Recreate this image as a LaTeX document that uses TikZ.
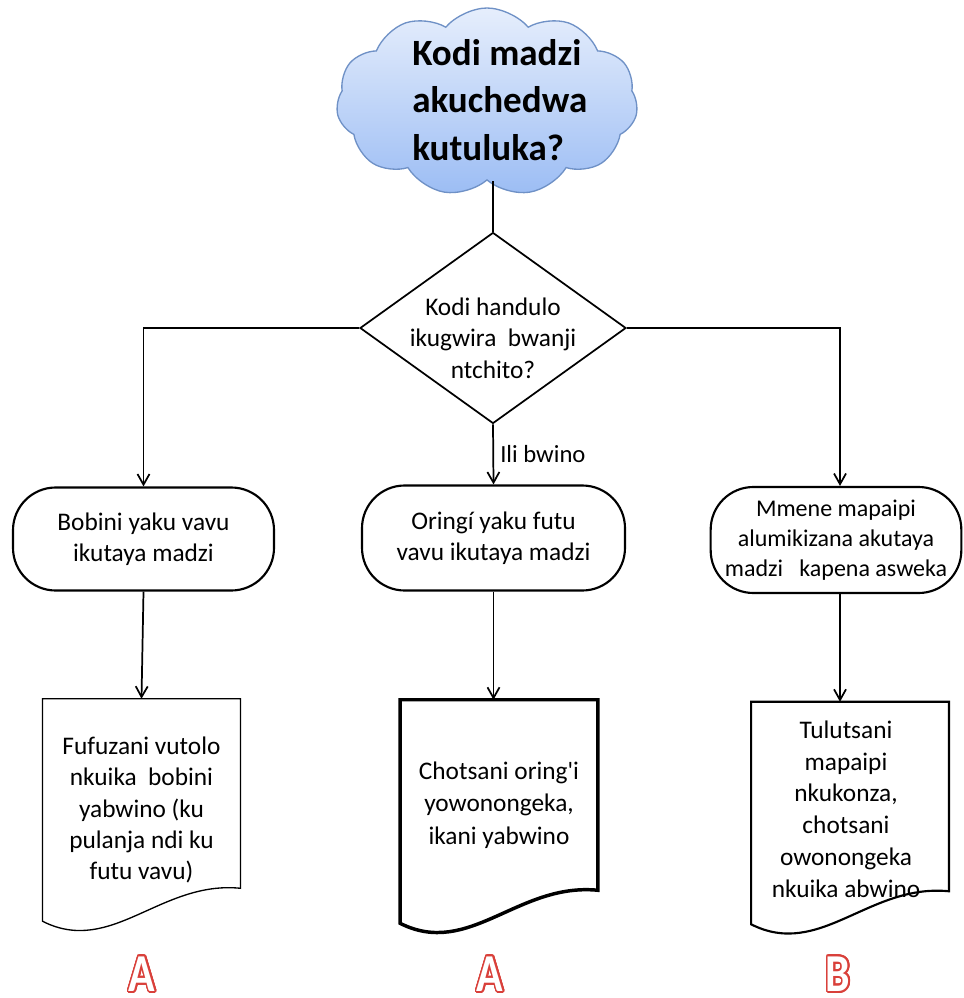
\documentclass[tikz,border=0pt]{standalone}
\usepackage{fontspec}
\setmainfont{Carlito}
\newfontfamily\plaincarlito{Carlito}
\usepackage{contour}
\contourlength{1.4pt}
\contournumber{24}
\usetikzlibrary{shapes.symbols,shapes.geometric,shapes.misc,arrows.meta,calc}
\definecolor{cloudtop}{HTML}{E6EEFC}
\definecolor{cloudbot}{HTML}{9CBDF4}
\definecolor{cloudedge}{HTML}{6F91C6}
\definecolor{letred}{HTML}{D9403A}
\tikzset{
  arr/.style={draw, line width=1.3pt, -{Straight Barb[length=8pt,width=9pt,line width=1.3pt]}},
  plain/.style={draw, line width=1.3pt},
  body/.style={font=\fontsize{19pt}{23.5pt}\selectfont, align=center, inner sep=0pt},
  stadium/.style={body, draw, line width=1.6pt, rounded corners=32pt},
  docbox/.style={inner sep=0pt, minimum width=148pt},
  bigletter/.style={font=\bfseries\fontsize{40pt}{40pt}\selectfont, inner sep=0pt}
}
\newcommand\docpath[2]{\draw[#2] (#1.north west) -- (#1.north east) -- ($(#1.south east)+(0,-33)$) .. controls ($(#1.south west)+(118,-41)$) and ($(#1.south west)+(69,35)$) .. (#1.south west) -- cycle;}
\newcommand\hollow[1]{\scalebox{0.82}[1]{\contour{letred}{\color{white}#1}}}
\begin{document}
\begin{tikzpicture}[x=0.75pt,y=-0.75pt]
\path[use as bounding box] (0,0) rectangle (963,998);
% cloud
\node[cloud, cloud puffs=11, cloud puff arc=100, aspect=1.6, minimum width=226pt, minimum height=141pt,
  inner sep=0pt, draw=cloudedge, line width=1pt, top color=cloudtop, bottom color=cloudbot] (cloud) at (487,102) {};
\node[font=\bfseries\fontsize{27.8pt}{35.5pt}\selectfont, align=left, inner sep=0pt, anchor=west] (cloudtext) at (412,100)
  {Kodi madzi\\akuchedwa\\kutuluka?};
% diamond
\node[diamond, draw, line width=1.3pt, minimum width=199.5pt, minimum height=143.25pt, inner sep=0pt, aspect=1.39] (dia) at (493,328) {};
\node[body] (diatext) at (493,338) {Kodi handulo\\ikugwira\ \ bwanji\\ntchito?};
% process boxes
\node[stadium, minimum width=195.75pt, minimum height=77.25pt] (lbox) at (143.5,539) {Bobini yaku vavu\\ikutaya madzi};
\node[stadium, minimum width=197.25pt, minimum height=78.75pt] (cbox) at (493.5,538) {Oringí yaku futu\\vavu ikutaya madzi};
\node[stadium, font=\fontsize{18pt}{22.5pt}\selectfont, minimum width=188pt, minimum height=79.5pt] (rbox) at (836,540) {Mmene mapaipi\\alumikizana akutaya\\madzi\ \ \ kapena asweka};
% connectors
\draw[plain] (dia.north) -- (dia.north |- cloud.south);
\draw[arr] (dia.west) -| (lbox.north);
\draw[arr] (dia.east) -| ([xshift=3pt]rbox.north);
\draw[arr] (dia.south) -- (cbox.north);
\node[font=\fontsize{18.5pt}{20pt}\selectfont, anchor=west, inner sep=0pt] (ok) at (500,454) {Ili bwino};
% documents
\node[docbox, minimum height=166.5pt] (ldoc) at (141.5,810) {};
\node[docbox, minimum height=167.25pt] (cdoc) at (499,811.5) {};
\node[docbox, minimum height=166.5pt] (rdoc) at (850,813) {};
\docpath{ldoc}{line width=1pt}
\docpath{cdoc}{line width=2.6pt}
\docpath{rdoc}{line width=1.6pt}
\node[body] (ldoctext) at (141.5,810) {Fufuzani vutolo\\nkuika\ \ bobini\\yabwino (ku\\pulanja ndi ku\\futu vavu)};
\node[body, font=\plaincarlito\fontsize{19pt}{24.5pt}\selectfont] (cdoctext) at (499,805) {Chotsani oring'i\\yowonongeka,\\ikani yabwino};
\node[body, font=\fontsize{19pt}{23.8pt}\selectfont] (rdoctext) at (846,809) {Tulutsani\\mapaipi\\nkukonza,\\chotsani\\owonongeka\\nkuika abwino};
\draw[arr] (lbox.south) -- (ldoc.north);
\draw[arr] (cbox.south) -- (cbox.south |- cdoc.north);
\draw[arr] ([xshift=3pt]rbox.south) -- ([xshift=-7.5pt]rdoc.north);
% letters
\node[bigletter] (la) at (142,975) {\hollow{A}};
\node[bigletter] (ca) at (490,975) {\hollow{A}};
\node[bigletter] (rb) at (838,975) {\hollow{B}};
\end{tikzpicture}
\end{document}
